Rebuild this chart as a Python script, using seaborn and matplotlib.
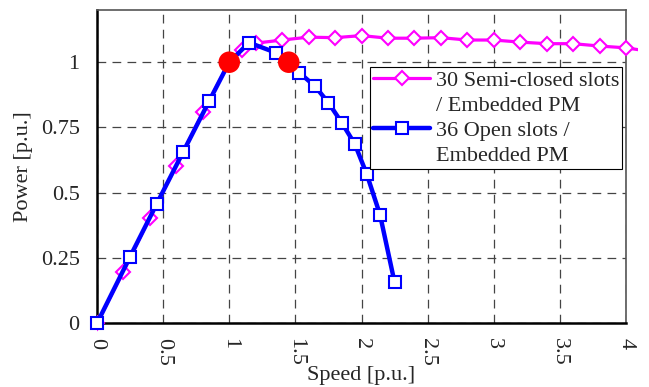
import numpy as np
import pandas as pd
import matplotlib
matplotlib.use("Agg")
import matplotlib.pyplot as plt
from matplotlib.lines import Line2D
from matplotlib.patches import Rectangle
import seaborn as sns

# Data
semi_speed = [0, 0.2, 0.4, 0.6, 0.8, 1.0, 1.1, 1.2, 1.4, 1.6, 1.8, 2.0, 2.2, 2.4,
              2.6, 2.8, 3.0, 3.2, 3.4, 3.6, 3.8, 4.0, 4.2]
semi_power = [0, 0.198, 0.405, 0.604, 0.808, 1.0, 1.047, 1.073, 1.085, 1.096, 1.094,
              1.102, 1.092, 1.092, 1.094, 1.085, 1.085, 1.077, 1.071, 1.071, 1.062,
              1.055, 1.04]

open_speed = [0, 0.25, 0.45, 0.65, 0.85, 1.0, 1.15, 1.35, 1.45, 1.53, 1.65, 1.75,
              1.85, 1.95, 2.04, 2.14, 2.25]
open_power = [0, 0.255, 0.456, 0.655, 0.853, 1.0, 1.075, 1.037, 1.0, 0.96, 0.907,
              0.845, 0.769, 0.686, 0.571, 0.416, 0.157]

corner_speed = [1.0, 1.45]
corner_power = [1.0, 1.0]

label_semi = ["30 Semi-closed slots", "/ Embedded PM"]
label_open = ["36 Open slots /", "Embedded PM"]

sns.set_style("white")
plt.rcParams["font.family"] = ["Liberation Serif", "DejaVu Serif"]
FS = 16

fig = plt.figure(figsize=(6.49, 3.87), dpi=100)
ax = fig.add_axes([97 / 649, 1 - 323.3 / 387, 529 / 649, 313.3 / 387])

# Semi-closed slots
sns.lineplot(x=semi_speed, y=semi_power, ax=ax, estimator=None, color="#FF00FF",
             linewidth=2.3, marker="D", markersize=6.8, markerfacecolor="white",
             markeredgecolor="#FF00FF", markeredgewidth=1.5, zorder=3)
pink_line = ax.lines[-1]

# Open slots
sns.lineplot(x=open_speed, y=open_power, ax=ax, estimator=None, color="#0000FF",
             linewidth=3.2, marker="s", markersize=8, markerfacecolor="white",
             markeredgecolor="#0000FF", markeredgewidth=1.5, zorder=4)
# the pink curve runs a little past the right frame, as in the original
pink_line.set_clip_path(Rectangle((0, -0.05), 1.023, 1.1, transform=ax.transAxes))
ax.lines[-1].set_clip_on(False)

# Corner points
sns.scatterplot(x=corner_speed, y=corner_power, ax=ax, color="#FF0000", s=240,
                edgecolor="none", zorder=5)

ax.set_xlim(0, 4)
ax.set_ylim(0, 1.2)
ax.set_xticks(np.arange(0, 4.01, 0.5))
ax.set_xticklabels(["0", "0.5", "1", "1.5", "2", "2.5", "3", "3.5", "4"],
                   rotation=-90, fontsize=FS)
ax.set_yticks([0, 0.25, 0.5, 0.75, 1])
ax.set_yticklabels(["0", "0.25", "0.5", "0.75", "1"], fontsize=FS)
ax.tick_params(axis="both", direction="out", length=4.5, width=1, color="black")
ax.tick_params(axis="y", pad=8)
ax.tick_params(axis="x", pad=6)

ax.grid(True, color="#444444", linestyle=(0, (7, 5)), linewidth=0.9)
ax.set_axisbelow(True)

for side in ["left", "bottom"]:
    ax.spines[side].set_color("black")
    ax.spines[side].set_linewidth(1.8)
for side in ["top", "right"]:
    ax.spines[side].set_color("#555555")
    ax.spines[side].set_linewidth(1.2)

ax.set_xlabel("Speed [p.u.]", fontsize=FS, va="top")
ax.xaxis.set_label_coords(0.5, -0.135)
ax.set_ylabel("Power [p.u.]", fontsize=FS, va="center")
ax.yaxis.set_label_coords(-0.138, 0.5)

handles = [
    Line2D([], [], color="#FF00FF", lw=2.3, marker="D", ms=6.8, mfc="white",
           mec="#FF00FF", mew=1.5),
    Line2D([], [], color="none"),
    Line2D([], [], color="#0000FF", lw=3.2, marker="s", ms=8, mfc="white",
           mec="#0000FF", mew=1.5),
    Line2D([], [], color="none"),
]
leg = ax.legend(handles, label_semi + label_open, loc="upper left",
                bbox_to_anchor=((370 - 97) / 529, (323.3 - 66.7) / 313.3),
                fontsize=FS, frameon=True, fancybox=False, framealpha=1,
                edgecolor="black", borderpad=0.15, labelspacing=0.2,
                handlelength=2.55, handletextpad=0.25, borderaxespad=0)
leg.get_frame().set_linewidth(0.8)
leg.set_zorder(6)

fig.savefig("out.png", dpi=100)
